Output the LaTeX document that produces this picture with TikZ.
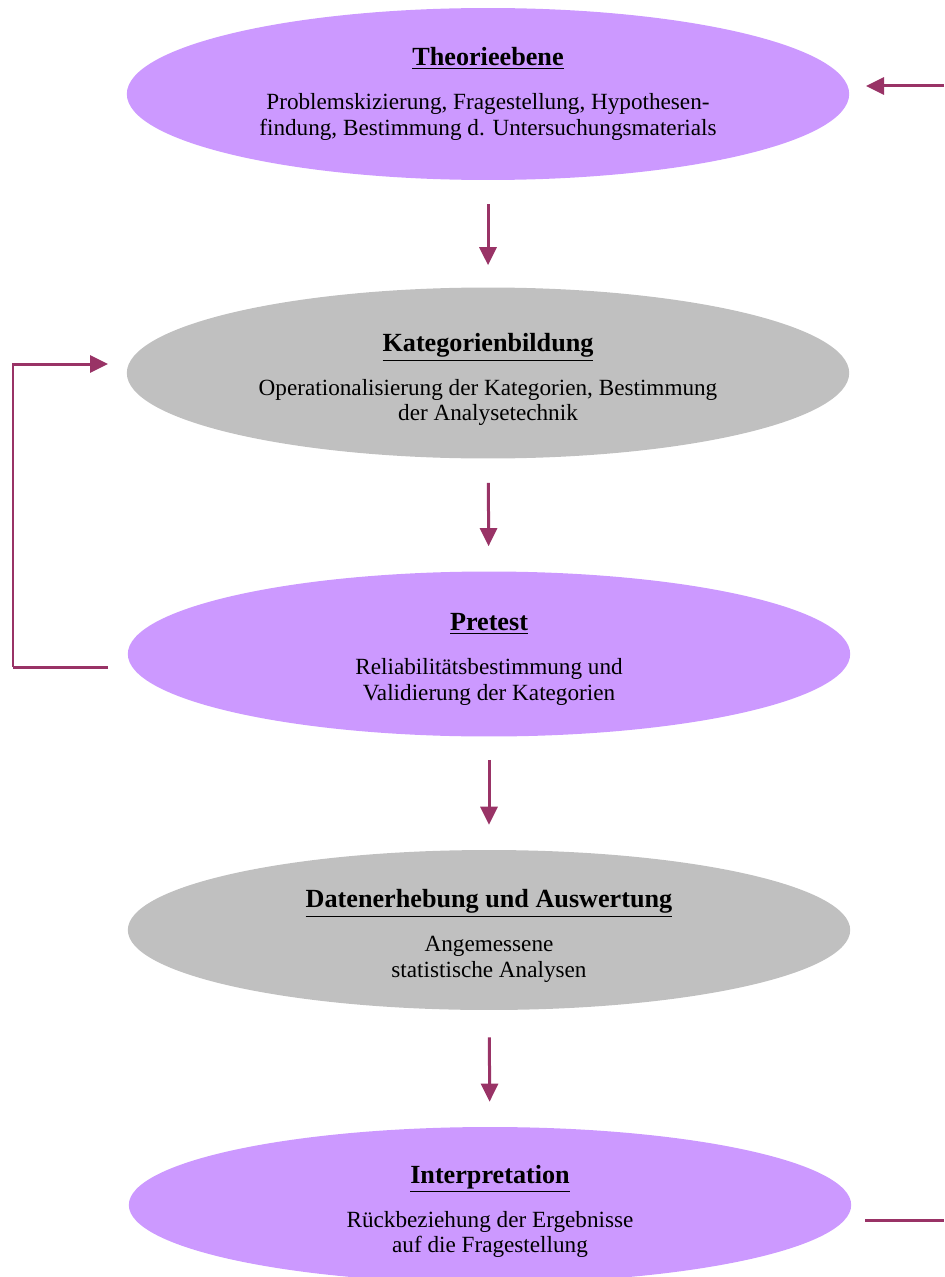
\documentclass[tikz,border=0pt]{standalone}
\usepackage{fontspec}
\setmainfont{Liberation Serif}
\usepackage{xcolor}
\usepackage{tikz}
\usetikzlibrary{shapes.geometric, arrows.meta, positioning, calc}

\definecolor{lila}{HTML}{CC99FF}
\definecolor{grau}{HTML}{C0C0C0}
\definecolor{pfeil}{HTML}{993366}

\tikzset{
	phase/.style={ellipse, inner sep=0pt, minimum width=14.45cm, minimum height=3.3cm, align=center,
		font=\fontsize{13.2}{14.7}\selectfont},
	arr/.style={pfeil, line width=0.06cm, -{Triangle[length=0.36cm, width=0.34cm]}},
	loopline/.style={pfeil, line width=0.06cm}
}
\newcommand{\titel}[2][0pt]{{\rule{0pt}{#1}\fontsize{14.9}{17}\selectfont\bfseries\underline{#2}}}

\begin{document}
\begin{tikzpicture}[x=0.02cm, y=-0.02cm]
	% Define the frame
	\useasboundingbox (0,0) rectangle (944,1277);
	\clip (0,0) rectangle (944,1277);
	
	% Draw the five phases
	\node[phase, fill=lila, minimum height=3.44cm] (theorie) at (488,94)
		{\titel{Theorieebene}\\[10pt]Problemskizierung, Fragestellung, Hypothesen-\\findung, Bestimmung d. Untersuchungsmaterials};
	\node[phase, fill=grau, minimum height=3.42cm] (kategorien) at (488,373)
		{\titel[18pt]{Kategorienbildung}\\[10pt]Operationalisierung der Kategorien, Bestimmung\\der Analysetechnik};
	\node[phase, fill=lila] (pretest) at (489,654)
		{\titel[16pt]{Pretest}\\[10pt]Reliabilitätsbestimmung und\\Validierung der Kategorien};
	\node[phase, fill=grau, minimum height=3.2cm] (daten) at (489,930)
		{\titel[17pt]{Datenerhebung und Auswertung}\\[10pt]Angemessene\\statistische Analysen};
	\node[phase, fill=lila, minimum height=3.12cm] (interpretation) at (490,1205)
		{\titel[18pt]{Interpretation}\\[10pt]Rückbeziehung der Ergebnisse\\auf die Fragestellung};
	
	% Arrows between the phases
	\draw[arr, shorten <=0.48cm, shorten >=0.44cm] (theorie) -- (kategorien);
	\draw[arr, shorten <=0.48cm, shorten >=0.5cm] (kategorien) -- (pretest);
	\draw[arr, shorten <=0.46cm, shorten >=0.5cm] (pretest) -- (daten);
	\draw[arr, shorten <=0.54cm, shorten >=0.5cm] (daten) -- (interpretation);
	
	% Loop from Pretest back to Kategorienbildung
	\coordinate (pretestaus) at (108,667);
	\coordinate (kategorienein) at (108,364);
	\coordinate (linksunten) at (13,667);
	\draw[loopline] (pretestaus) -- (linksunten);
	\draw[arr] (linksunten) |- (kategorienein);
	
	% Loop from Interpretation back to Theorieebene (leaves the page)
	\coordinate (interpretationaus) at (865,1220);
	\coordinate (rechtsunten) at (944,1220);
	\coordinate (rechtsoben) at (944,86);
	\coordinate (theorieein) at (866,86);
	\draw[loopline] (interpretationaus) -- (rechtsunten);
	\draw[arr] (rechtsoben) -- (theorieein);
	
\end{tikzpicture}
\end{document}
